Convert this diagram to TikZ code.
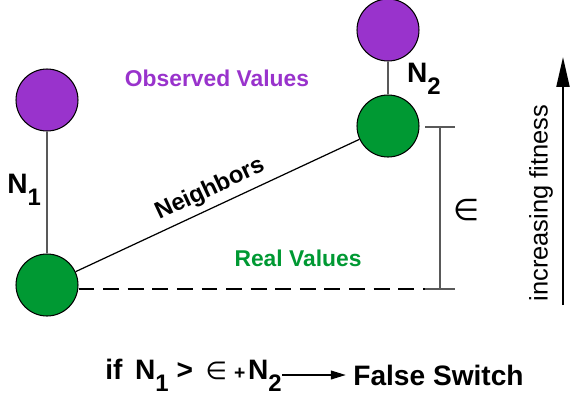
\documentclass[tikz,border=0pt]{standalone}
\usepackage{fontspec}
\usepackage{graphicx}
\setmainfont{Liberation Sans}
\newfontfamily\symfont{DejaVu Sans}
\usetikzlibrary{arrows.meta}
\definecolor{obspurple}{HTML}{9933CC}
\definecolor{realgreen}{HTML}{009933}
\newcommand{\lowsub}[1]{\raisebox{-0.42em}{\scalebox{0.85}{#1}}}
\newcommand{\epsym}{{\symfont\mdseries ∈}}
\tikzset{
  obsnode/.style={circle, draw=black, line width=0.6pt, fill=obspurple, minimum size=1.24cm, inner sep=0pt},
  realnode/.style={circle, draw=black, line width=0.6pt, fill=realgreen, minimum size=1.24cm, inner sep=0pt},
  lbl/.style={font=\bfseries\fontsize{16}{16}\selectfont},
  link/.style={draw=black!65, line width=0.7pt}
}
\begin{document}
\begin{tikzpicture}[x=0.02cm, y=-0.02cm]
\useasboundingbox (0,0) rectangle (586,400);
% circles
\node[obsnode] (o1) at (47,100) {};
\node[realnode] (r1) at (47,285) {};
\node[realnode] (r2) at (388,126) {};
\node[obsnode] (o2) at (388,30) {};
\draw[link] (o1) -- (r1);
\draw[link] (o2) -- (r2);
\node[lbl, anchor=east, inner sep=1pt] (n1) at (43,190) {N\lowsub{1}};
\node[lbl, anchor=west, inner sep=1pt] (n2) at (405,79) {N\lowsub{2}};
% neighbor line
\draw[line width=0.7pt] (r1) -- node[sloped, above, font=\bfseries\fontsize{13.5}{13.5}\selectfont] {Neighbors} (r2);
\node[font=\bfseries\fontsize{13}{13}\selectfont, text=obspurple] (obs) at (217,78) {Observed Values};
\node[font=\bfseries\fontsize{13}{13}\selectfont, text=realgreen] (real) at (298,258) {Real Values};
% epsilon bracket
\coordinate (etop) at (440,127);
\coordinate (ebot) at (440,289);
\draw[dashed, dash pattern=on 9pt off 5pt, line width=0.7pt] (r1.east |- ebot) -- ([xshift=-7pt]ebot);
\draw[link, line width=0.9pt] (etop) -- (ebot);
\foreach \c in {etop, ebot} \draw[link, line width=0.9pt] ([xshift=-8.5pt]\c) -- ([xshift=8.5pt]\c);
\node[font=\fontsize{17}{17}\selectfont, anchor=west, inner sep=0pt] (eps) at (453,210) {\epsym};
% fitness arrow
\coordinate (fbot) at (563,305);
\coordinate (ftop) at (563,57);
\draw[-{Triangle[length=0.6cm, width=0.26cm]}, line width=1.2pt] (fbot) -- (ftop);
\node[rotate=90, font=\fontsize{14.5}{14.5}\selectfont] (fit) at (541,203) {increasing fitness};
% condition
\node[font=\bfseries\fontsize{16}{16}\selectfont, anchor=west, inner sep=0pt] (cond) at (105,375) {if\hspace{0.45em}N\lowsub{1} >\hspace{0.45em}{\fontsize{14}{14}\selectfont\epsym}\hspace{0.25em}{\fontsize{11}{11}\selectfont+}\hspace{0.1em}N\lowsub{2}};
\node[font=\bfseries\fontsize{16}{16}\selectfont, anchor=west, inner sep=0pt] (res) at (353,375) {False Switch};
\draw[-{Triangle[length=0.3cm, width=0.17cm]}, line width=1.2pt] (cond.east) -- ([xshift=-4pt]res.west);
\end{tikzpicture}
\end{document}
